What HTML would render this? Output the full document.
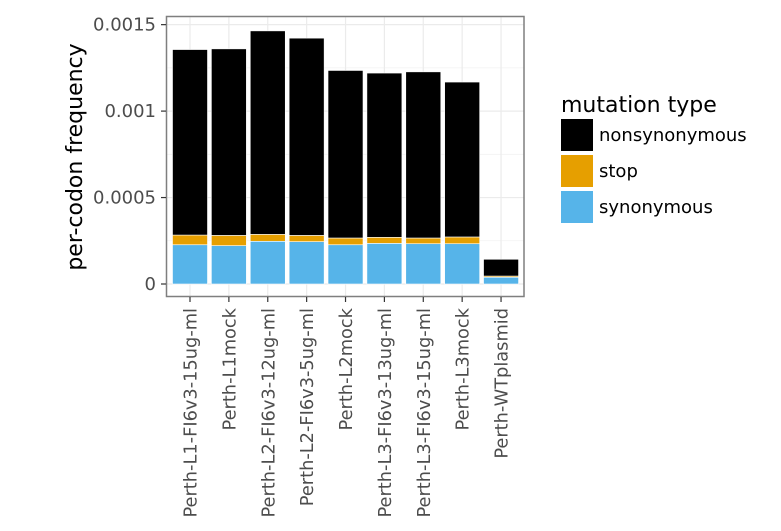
<!DOCTYPE html>
<html><head><meta charset="utf-8"><style>
html,body{margin:0;padding:0;background:#fff;}
svg{display:block;font-family:"DejaVu Sans","Liberation Sans",sans-serif;}
</style></head><body>
<svg id="chart" width="781" height="531">
<rect x="0" y="0" width="781" height="531" fill="#fff"/>
<g id="grid"></g>
<g id="bars"></g>
<rect x="166.5" y="16.5" width="357.5" height="280" fill="none" stroke="#7f7f7f" stroke-width="1.5"/>
<g id="yaxis"></g>
<g id="xaxis"></g>
<text x="82" y="157" transform="rotate(-90 82 157)" text-anchor="middle" font-size="22" fill="#000">per-codon frequency</text>
<g>
<text x="561" y="112" font-size="22" fill="#000">mutation type</text>
<g><rect x="561" y="119" width="32" height="32" fill="#000"/><text x="599" y="141" font-size="18">nonsynonymous</text></g>
<g><rect x="561" y="155" width="32" height="32" fill="#E69F00"/><text x="599" y="177" font-size="18">stop</text></g>
<g><rect x="561" y="191" width="32" height="32" fill="#56B4E9"/><text x="599" y="213" font-size="18">synonymous</text></g>
</g>
</svg>
<script>
const categories=["Perth-L1-FI6v3-15ug-ml","Perth-L1mock","Perth-L2-FI6v3-12ug-ml","Perth-L2-FI6v3-5ug-ml","Perth-L2mock","Perth-L3-FI6v3-13ug-ml","Perth-L3-FI6v3-15ug-ml","Perth-L3mock","Perth-WTplasmid"];
const synonymous=[0.000227,0.000222,0.000247,0.000245,0.000227,0.000235,0.000233,0.000233,0.000039];
const stop=[0.000056,0.000059,0.000040,0.000036,0.000039,0.000035,0.000033,0.000039,0.000007];
const nonsynonymous=[0.001073,0.001079,0.001177,0.001141,0.000969,0.000950,0.000961,0.000896,0.000097];
const yTicks=[0,0.0005,0.001,0.0015];
const yTickLabels=["0","0.0005","0.001","0.0015"];
const NS="http://www.w3.org/2000/svg";
const y0=284, pxPerUnit=172900;
function yScale(v){return y0-v*pxPerUnit;}
const step=38.88;
function xScale(i){return 190+i*step;}
const bw=35;
const grid=document.getElementById('grid'),bars=document.getElementById('bars'),ya=document.getElementById('yaxis'),xa=document.getElementById('xaxis');
function mk(tag,attrs,parent){const e=document.createElementNS(NS,tag);for(const k in attrs)e.setAttribute(k,attrs[k]);parent.appendChild(e);return e;}
for(let k=0;k<yTicks.length;k++){
  const y=yScale(yTicks[k]);
  const l=mk('line',{x1:166.5,x2:524,y1:y,y2:y,stroke:'#ebebeb','stroke-width':1.2},grid);
  
  
  if(k<yTicks.length-1){
    const ym=yScale((yTicks[k]+yTicks[k+1])/2);
    const m=mk('line',{x1:166.5,x2:524,y1:ym,y2:ym,stroke:'#f2f2f2','stroke-width':0.8},grid);
    
    
  }
  const t=mk('line',{x1:161,x2:166,y1:y,y2:y,stroke:'#333','stroke-width':1.2},ya);
  
  
  const tx=mk('text',{x:156,y:y+6,'text-anchor':'end','font-size':18,fill:'#4d4d4d'},ya);
  tx.textContent=yTickLabels[k];
  
  
}
for(let i=0;i<categories.length;i++){
  const x=xScale(i);
  const g=mk('line',{x1:x,x2:x,y1:16.5,y2:296.5,stroke:'#ebebeb','stroke-width':1.2},grid);
  
  
  const segs=[[synonymous[i],'#56B4E9','bar-synonymous'],[stop[i],'#E69F00','bar-stop'],[nonsynonymous[i],'#000000','bar-nonsynonymous']];
  let base=0;
  for(const s of segs){
    const yt=yScale(base+s[0]), yb=yScale(base);
    const r=mk('rect',{x:x-bw/2,y:yt,width:bw,height:Math.max(0,yb-yt),fill:s[1],stroke:'#ffffff','stroke-width':0.6},bars);
    
    
    base+=s[0];
  }
  const t=mk('line',{x1:x,x2:x,y1:297,y2:302,stroke:'#333','stroke-width':1.2},xa);
  
  
  const lx=x+6.5, ly=308;
  const tx=mk('text',{x:lx,y:ly,transform:`rotate(-90 ${lx} ${ly})`,'text-anchor':'end','font-size':17.8,fill:'#4d4d4d'},xa);
  tx.textContent=categories[i];
  
  
}
</script>
</body></html>
